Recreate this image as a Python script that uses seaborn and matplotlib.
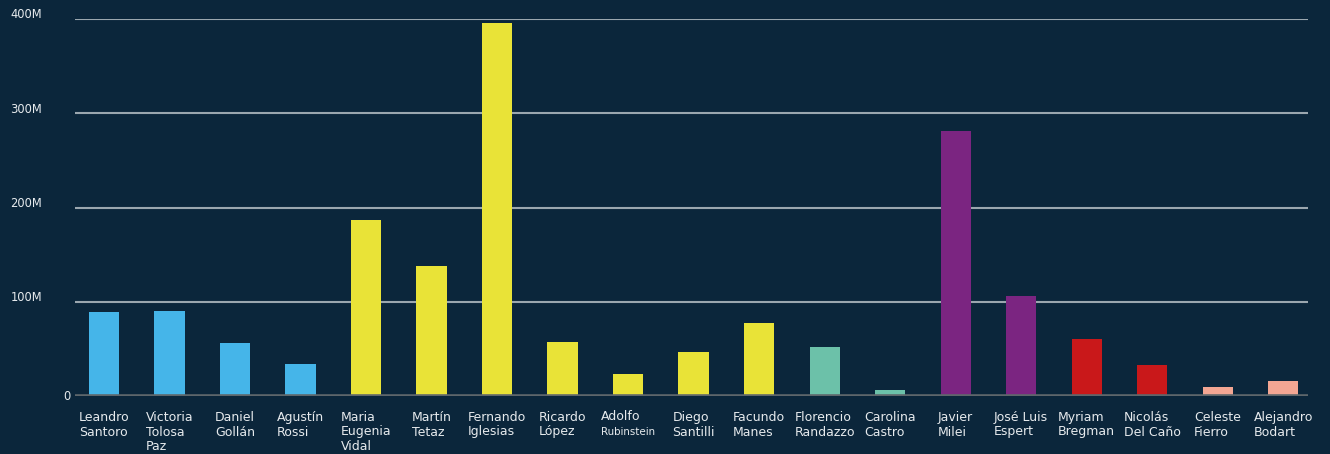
import matplotlib
matplotlib.use("Agg")
import matplotlib.pyplot as plt
import matplotlib.transforms as mtransforms
import seaborn as sns
import pandas as pd

# Candidates (two-line display names), party and amount
names = [
    "Leandro\nSantoro", "Victoria\nTolosa\nPaz", "Daniel\nGollán", "Agustín\nRossi",
    "Maria\nEugenia\nVidal", "Martín\nTetaz", "Fernando\nIglesias", "Ricardo\nLópez",
    "Adolfo\nRubinstein", "Diego\nSantilli", "Facundo\nManes", "Florencio\nRandazzo",
    "Carolina\nCastro", "Javier\nMilei", "José Luis\nEspert", "Myriam\nBregman",
    "Nicolás\nDel Caño", "Celeste\nFierro", "Alejandro\nBodart",
]
parties = [
    "FdT", "FdT", "FdT", "FdT",
    "JxC", "JxC", "JxC", "JxC", "JxC", "JxC", "JxC",
    "VxB", "VxB",
    "LLA", "LLA",
    "FIT", "FIT",
    "NMAS", "NMAS",
]
values = [89, 90, 56, 34, 187, 138, 396, 57, 23, 47, 77, 52, 6.4, 281, 106, 60, 33, 9.5, 16]  # millions

party_colors = {
    "FdT": "#45b5e9",
    "JxC": "#e9e337",
    "VxB": "#6cc1a9",
    "LLA": "#7b2581",
    "FIT": "#c9181a",
    "NMAS": "#f3a693",
}

y_ticks = [0, 100, 200, 300, 400]
y_tick_labels = ["0", "100M", "200M", "300M", "400M"]

BG = "#0b263b"
GRID = "#9ba7af"
ZERO = "#5e666b"
TEXT = "#e6eaed"

df = pd.DataFrame({"name": names, "party": parties, "value": values})

sns.set_theme(style="dark")
plt.rcParams["font.family"] = ["DejaVu Sans"]

fig = plt.figure(figsize=(13.3, 4.54), dpi=100, facecolor=BG)
ax = fig.add_axes([75 / 1330, 58 / 454, (1308 - 75) / 1330, (396 - 19) / 454])
ax.set_facecolor(BG)

sns.barplot(
    data=df, x="name", y="value", hue="party", palette=party_colors,
    dodge=False, width=0.46, saturation=1, legend=False, ax=ax, zorder=2,
    linewidth=0, edgecolor="none",
)

ax.set_xlim(-0.443, 18.38)
ax.set_ylim(0, 400)
ax.set_yticks(y_ticks)
ax.set_yticklabels([])
ax.set_xticks([])
ax.set_xlabel("")
ax.set_ylabel("")
ax.tick_params(length=0)
for s in ax.spines.values():
    s.set_visible(False)

# horizontal guides; baseline is heavier and darker
for t in y_ticks[1:]:
    ax.axhline(t, color=GRID, lw=1.5, zorder=1)
ax.axhline(0, color=ZERO, lw=2.6, zorder=3)

# value axis labels, sitting just above each guide
ylab_tr = mtransforms.blended_transform_factory(ax.transAxes, ax.transData)
for t, lab in zip(y_ticks, y_tick_labels):
    dx = -5 if t == 0 else -33
    dy = 0 if t == 0 else 4
    tr = ylab_tr + mtransforms.ScaledTranslation(dx / 100, dy / 100, fig.dpi_scale_trans)
    ax.text(0, t, lab, transform=tr, ha="right", va="center", fontsize=8.3, color=TEXT)

# category labels under the bars, left-aligned inside a centred box
xlab_base = mtransforms.blended_transform_factory(ax.transData, ax.transAxes)
xlab_tr = xlab_base + mtransforms.ScaledTranslation(0, -15 / 100, fig.dpi_scale_trans)
for i, nm in enumerate(names):
    first, second = nm.split("\n", 1)
    if second == "Rubinstein":
        sub_tr = xlab_base + mtransforms.ScaledTranslation(0, -39 / 100, fig.dpi_scale_trans)
        sub = ax.text(i, 0, second, transform=sub_tr, ha="center", va="baseline",
                      fontsize=7.4, color=TEXT)
        ax.annotate(first, xy=(0, 1), xycoords=sub, xytext=(0, 3), textcoords="offset points",
                    ha="left", va="bottom", fontsize=9, color=TEXT, annotation_clip=False)
        continue
    ax.text(i, 0, nm, transform=xlab_tr, ha="center", va="top", multialignment="left",
            fontsize=9, color=TEXT, linespacing=1.15)

fig.savefig("out.png", dpi=100, facecolor=BG)
